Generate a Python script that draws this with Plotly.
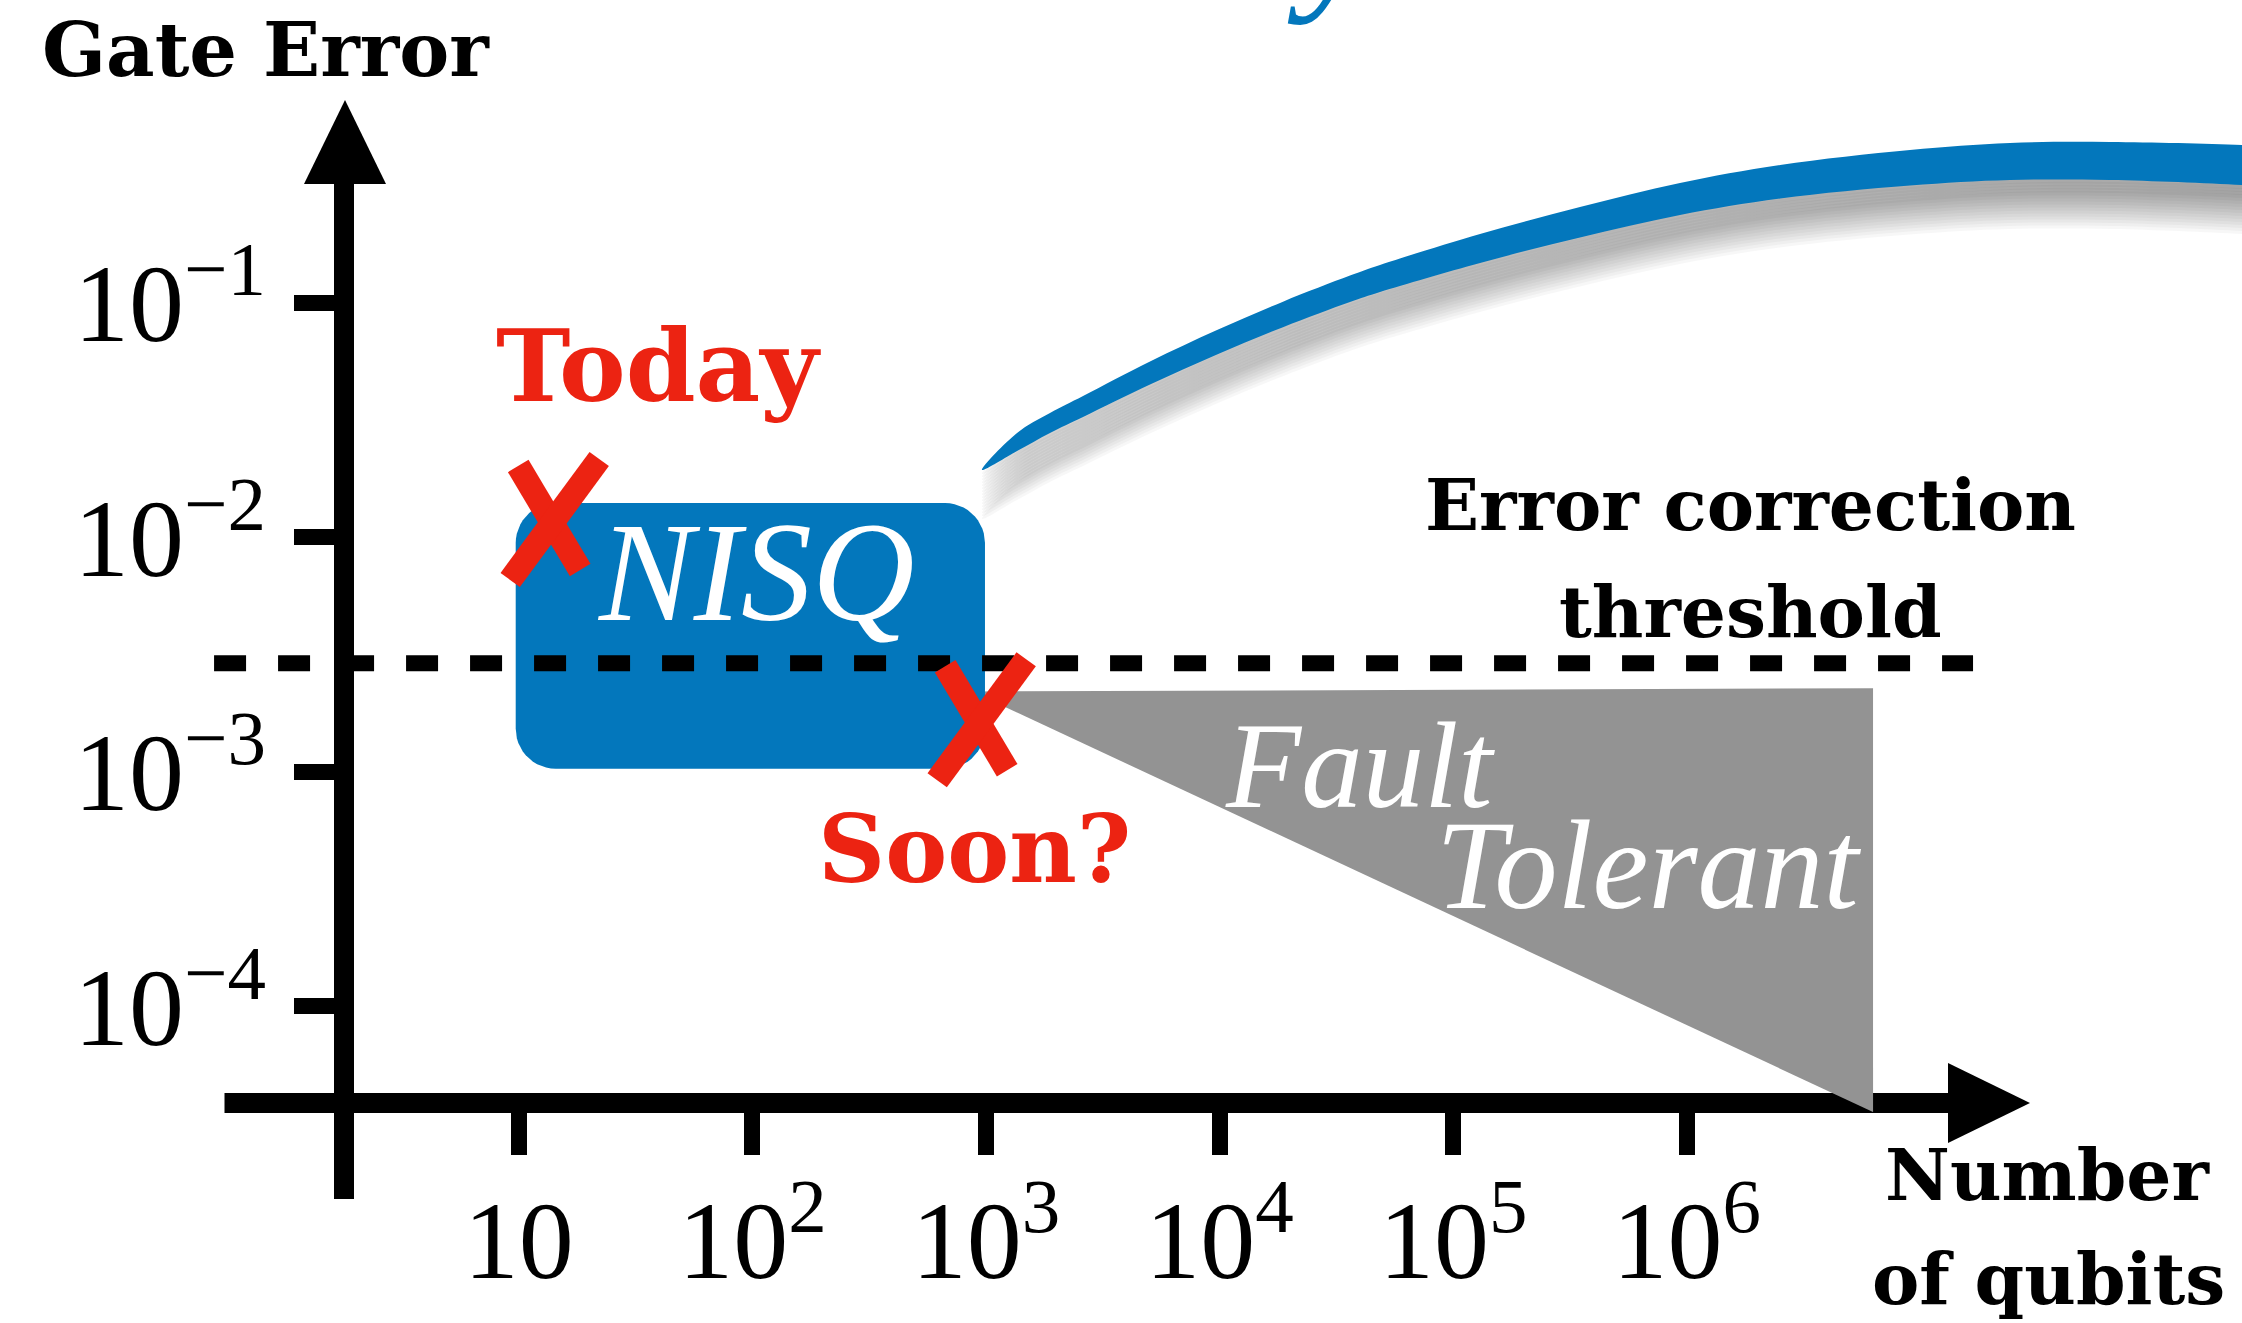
import numpy as np
import plotly.graph_objects as go

W, H = 2242, 1323

# ------------------------------------------------------------------ data
x_tick_vals = [1e1, 1e2, 1e3, 1e4, 1e5, 1e6]
x_tick_text = ["10", "10<sup>2</sup>", "10<sup>3</sup>", "10<sup>4</sup>",
               "10<sup>5</sup>", "10<sup>6</sup>"]
y_tick_vals = [1e-1, 1e-2, 1e-3, 1e-4]
y_tick_text = ["10<sup>−1</sup>", "10<sup>−2</sup>", "10<sup>−3</sup>", "10<sup>−4</sup>"]

threshold_error = 2.9e-3
threshold_qubits = [0.496, 1.68e7]

nisq_qubits = [9.7, 990]
nisq_error = [1.03e-3, 1.40e-2]

ft_qubits = [870, 6.27e6, 6.27e6]
ft_error = [2.2e-3, 2.27e-3, 3.54e-5]

mark_labels = ["Today", "Soon?"]
mark_qubits = [13.9, 935]
mark_error = [1.15e-2, 1.61e-3]

swoosh_qubits = [961, 1358, 1879, 2603, 5036, 9750, 18680, 36160, 48600,
                 1.303e5, 3.49e5, 9.35e5, 2.51e6, 9.02e6, 2.42e7, 6.48e7,
                 2.38e8, 4.2e8]
swoosh_upper = [0.01936, 0.02784, 0.03387, 0.04002, 0.05617, 0.07650, 0.1011,
                0.1306, 0.1449, 0.1964, 0.2561, 0.3241, 0.3868, 0.4481,
                0.4800, 0.4847, 0.4707, 0.4570]
swoosh_lower = [0.01936, 0.02332, 0.02784, 0.03257, 0.04481, 0.06016, 0.07871,
                0.1007, 0.1111, 0.1478, 0.1898, 0.2367, 0.2784, 0.3162,
                0.3338, 0.3338, 0.3178, 0.3056]

# ------------------------------------------------------------------ style
BLUE = "#0377BC"
RED = "#EC2312"
GRAY = "#939393"
SERIF = "Liberation Serif"
BOLD_SERIF = "DejaVu Serif"

X_RANGE = [-1.2209, 8.3767]
Y_RANGE = [-5.3507, 0.2910]
KX = (X_RANGE[1] - X_RANGE[0]) / W   # decades per pixel
KY = (Y_RANGE[1] - Y_RANGE[0]) / H


def px(x):
    return x / W


def py(y):
    return 1 - y / H


fig = go.Figure()

# swoosh shadow (layered translucent copies)
sx = swoosh_qubits + swoosh_qubits[::-1]
for dy in range(4, 52, 3):
    f = 10 ** (-dy * KY)
    sy = [v * f for v in swoosh_upper] + [v * f for v in swoosh_lower[::-1]]
    fig.add_trace(go.Scatter(x=sx, y=sy, mode="lines", fill="toself",
                             fillcolor="rgba(0,0,0,0.03)",
                             line=dict(width=0, shape="spline", smoothing=1),
                             hoverinfo="skip"))
# swoosh
fig.add_trace(go.Scatter(x=sx, y=swoosh_upper + swoosh_lower[::-1], mode="lines",
                         fill="toself", fillcolor=BLUE,
                         line=dict(width=0, shape="spline", smoothing=1),
                         hoverinfo="skip"))

# fault tolerant wedge
fig.add_trace(go.Scatter(x=ft_qubits + ft_qubits[:1], y=ft_error + ft_error[:1],
                         mode="lines", fill="toself", fillcolor=GRAY,
                         line=dict(width=0), hoverinfo="skip"))


# NISQ rounded box
def rounded_box(xs, ys, r_px=40, n=14):
    lx0, lx1 = np.log10(xs[0]), np.log10(xs[1])
    ly0, ly1 = np.log10(ys[0]), np.log10(ys[1])
    rx, ry = r_px * KX, r_px * KY
    cs = [(lx1 - rx, ly1 - ry, 0), (lx0 + rx, ly1 - ry, 90),
          (lx0 + rx, ly0 + ry, 180), (lx1 - rx, ly0 + ry, 270)]
    bx, by = [], []
    for cx, cy, a0 in cs:
        t = np.radians(np.linspace(a0, a0 + 90, n))
        bx += list(cx + rx * np.cos(t))
        by += list(cy + ry * np.sin(t))
    bx.append(bx[0]); by.append(by[0])
    return [10 ** v for v in bx], [10 ** v for v in by]


bx, by = rounded_box(nisq_qubits, nisq_error)
fig.add_trace(go.Scatter(x=bx, y=by, mode="lines", fill="toself", fillcolor=BLUE,
                         line=dict(width=0), hoverinfo="skip"))

# threshold dashed line
fig.add_trace(go.Scatter(x=threshold_qubits, y=[threshold_error] * 2, mode="lines",
                         line=dict(color="black", width=16, dash="32px,32px"),
                         hoverinfo="skip"))

# red brush X marks
strokes = [((-34, -57), (28, 47)), ((47, -64), (-42, 57))]
for cx, cy in zip(mark_qubits, mark_error):
    xs, ys = [], []
    for (ax_, ay_), (bx_, by_) in strokes:
        xs += [cx * 10 ** (ax_ * KX), cx * 10 ** (bx_ * KX), None]
        ys += [cy * 10 ** (-ay_ * KY), cy * 10 ** (-by_ * KY), None]
    fig.add_trace(go.Scatter(x=xs, y=ys, mode="lines",
                             line=dict(color=RED, width=24), hoverinfo="skip"))

# ------------------------------------------------------------------ axes drawn as shapes
shapes = []
shapes.append(dict(type="rect", xref="paper", yref="paper", layer="below",
                   x0=px(224.5), x1=px(1950), y0=py(1113), y1=py(1093),
                   fillcolor="black", line=dict(width=0)))
shapes.append(dict(type="path", xref="paper", yref="paper", layer="below",
                   path=f"M {px(1948)} {py(1063)} L {px(2030)} {py(1103)} L {px(1948)} {py(1143)} Z",
                   fillcolor="black", line=dict(width=0)))
shapes.append(dict(type="rect", xref="paper", yref="paper", layer="below",
                   x0=px(334), x1=px(354), y0=py(1199), y1=py(180),
                   fillcolor="black", line=dict(width=0)))
shapes.append(dict(type="path", xref="paper", yref="paper", layer="below",
                   path=f"M {px(304)} {py(184)} L {px(345)} {py(100)} L {px(386)} {py(184)} Z",
                   fillcolor="black", line=dict(width=0)))

# ------------------------------------------------------------------ text
ann = []


def text(t, x, y, size, color="black", family=BOLD_SERIF, weight="bold",
         style="normal"):
    ann.append(dict(text=t, x=px(x), y=py(y), xref="paper", yref="paper",
                    showarrow=False, xanchor="center", yanchor="middle",
                    font=dict(family=family, size=size, color=color,
                              weight=weight, style=style)))


text("Gate Error", 265.5, 50, 75)
text(mark_labels[0], 658, 366, 100, color=RED)
text(mark_labels[1], 974, 849, 93, color=RED)
text("NISQ", 756, 572, 142, color="white", family=SERIF, weight="normal",
     style="italic")
text("Fault", 1360, 765, 123, color="white", family=SERIF, weight="normal",
     style="italic")
text("Tolerant", 1648, 865, 126, color="white", family=SERIF, weight="normal",
     style="italic")
text("Error correction", 1750, 505, 71)
text("threshold", 1750, 612, 71)
text("Number", 2047.5, 1175, 71)
text("of qubits", 2048, 1279, 71)
text("y", 1332, -69, 170, color=BLUE, family=SERIF, weight="normal", style="italic")

fig.update_layout(
    width=W, height=H, autosize=False,
    margin=dict(l=0, r=0, t=0, b=0, pad=0),
    paper_bgcolor="white", plot_bgcolor="white",
    showlegend=False, hovermode=False,
    shapes=shapes, annotations=ann,
    xaxis=dict(type="log", range=X_RANGE, domain=[0, 1], anchor="free",
               position=py(1103), showgrid=False, zeroline=False, showline=False,
               ticks="outside", ticklen=51, tickwidth=16, tickcolor="black",
               tickmode="array", tickvals=x_tick_vals, ticktext=x_tick_text,
               ticklabelstandoff=-9,
               tickfont=dict(family=SERIF, size=110, color="black")),
    yaxis=dict(type="log", range=Y_RANGE, domain=[0, 1], anchor="free",
               position=px(344), showgrid=False, zeroline=False, showline=False,
               ticks="outside", ticklen=50, tickwidth=16, tickcolor="black",
               tickmode="array", tickvals=y_tick_vals, ticktext=y_tick_text,
               ticklabelstandoff=6,
               tickfont=dict(family=SERIF, size=110, color="black")),
)

fig.write_html(
    "out.html",
    config={"displayModeBar": False},
    post_script=("document.documentElement.style.margin='0';"
                 "document.body.style.margin='0';document.body.style.padding='0';"
                 "document.documentElement.style.overflow='hidden';"
                 "document.body.style.overflow='hidden';"),
)
